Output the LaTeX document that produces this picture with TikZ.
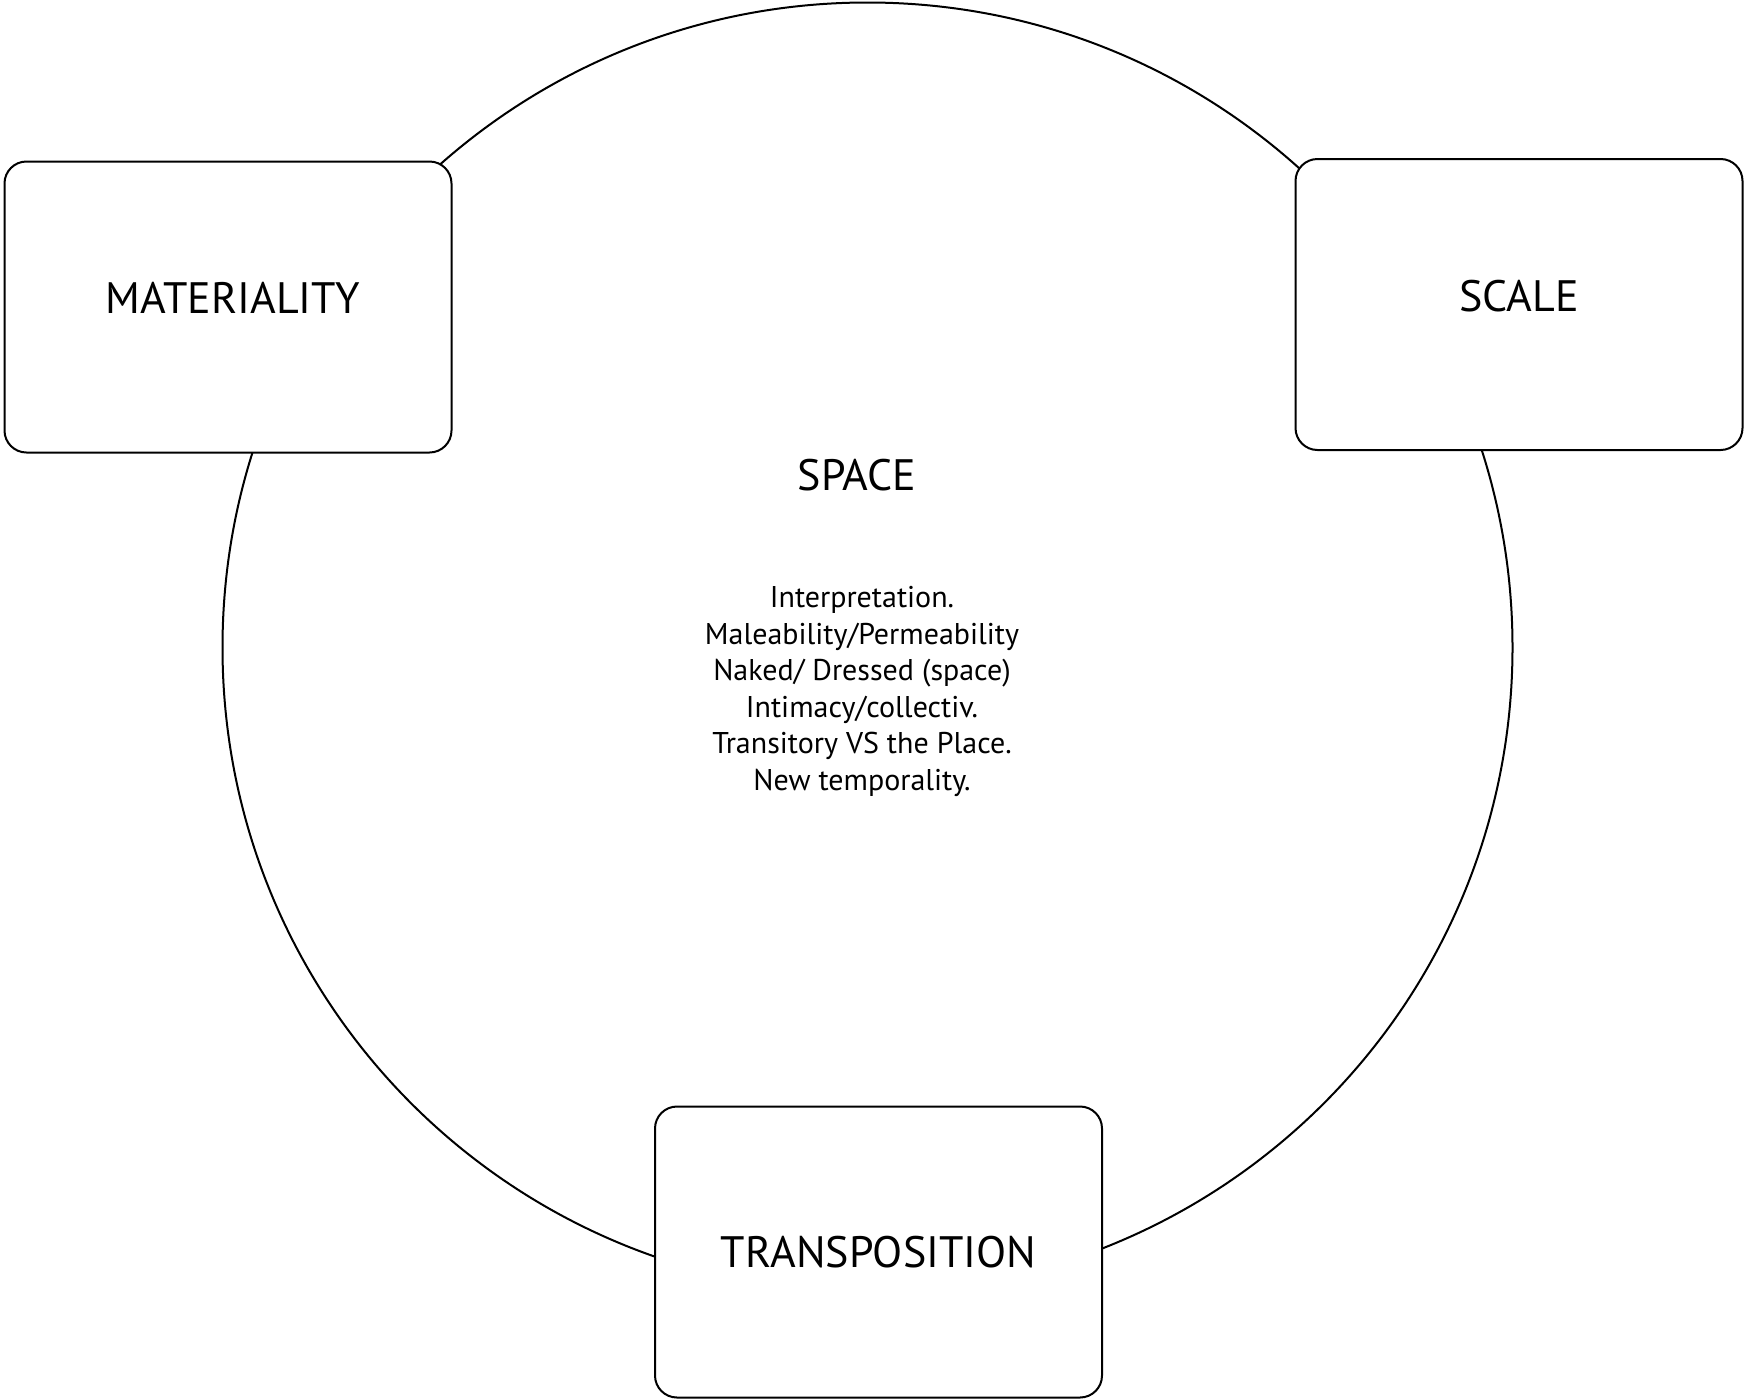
\documentclass[tikz,border=0pt]{standalone}
\usepackage{fontspec}
\setmainfont{PT Sans}
\begin{document}
\begin{tikzpicture}[x=0.5pt,y=-0.5pt,line width=1pt,
  box/.style={draw,fill=white,rounded corners=11pt,minimum width=223.5pt,minimum height=145.5pt,inner sep=0pt},
  big/.style={font=\fontsize{22}{26}\selectfont},
  small/.style={font=\fontsize{15}{18.25}\selectfont,align=center}]
\useasboundingbox (0,0) rectangle (1744,1398);
% ring
\node[circle,draw,minimum size=645pt,inner sep=0pt] (ring) at (867.5,647.5) {};
% boxes
\node[box] (mat) at (228,307) {};
\node[box] (scale) at (1519,304.5) {};
\node[box] (trans) at (878.5,1252) {};
\node[big] at ([xshift=2.5pt,yshift=4.5pt]mat.center) {MATERIALITY};
\node[big] at ([yshift=4pt]scale.center) {SCALE};
\node[big] at (trans.center) {TRANSPOSITION};
% middle
\node[big] (space) at (857,475) {SPACE};
\node[small] (list) at (862,691.5) {Interpretation.\\Maleability/Permeability\\Naked/ Dressed (space)\\Intimacy/collectiv.\\Transitory VS the Place.\\New temporality.};
\end{tikzpicture}
\end{document}
